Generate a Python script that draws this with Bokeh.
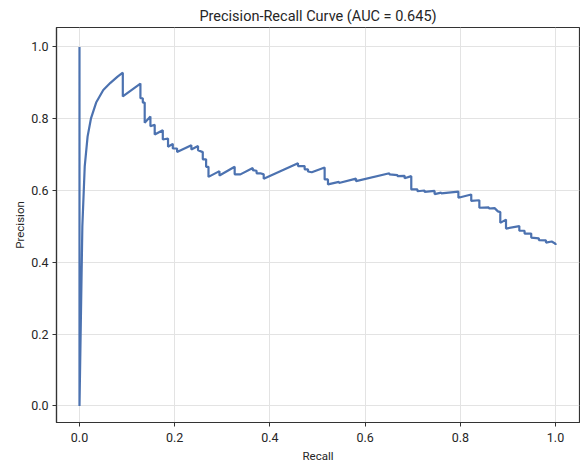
from bokeh.plotting import figure
from bokeh.models import FixedTicker, Range1d, ColumnDataSource, PrintfTickFormatter
from bokeh.embed import file_html
from bokeh.resources import INLINE

title_text = "Precision-Recall Curve (AUC = 0.645)"
x_label = "Recall"
y_label = "Precision"
tick_values = [0.0, 0.2, 0.4, 0.6, 0.8, 1.0]

recall = [
    0.000, 0.000, 0.006, 0.011, 0.017, 0.024, 0.035, 0.050, 0.065, 0.080,
    0.091, 0.091, 0.128, 0.128, 0.133, 0.133, 0.137, 0.137, 0.149, 0.149,
    0.158, 0.158, 0.175, 0.175, 0.186, 0.186, 0.196, 0.196, 0.205, 0.205,
    0.235, 0.235, 0.249, 0.249, 0.259, 0.259, 0.266, 0.266, 0.271, 0.271,
    0.294, 0.294, 0.326, 0.326, 0.338, 0.364, 0.364, 0.372, 0.372, 0.380,
    0.387, 0.387, 0.459, 0.459, 0.473, 0.473, 0.480, 0.480, 0.488, 0.515,
    0.515, 0.522, 0.522, 0.545, 0.545, 0.581, 0.581, 0.651, 0.651, 0.668,
    0.668, 0.683, 0.683, 0.697, 0.697, 0.710, 0.710, 0.725, 0.725, 0.746,
    0.746, 0.760, 0.760, 0.796, 0.796, 0.823, 0.823, 0.840, 0.840, 0.860,
    0.860, 0.872, 0.879, 0.884, 0.884, 0.896, 0.896, 0.924, 0.924, 0.935,
    0.935, 0.949, 0.949, 0.965, 0.965, 0.980, 0.980, 0.992, 1.000, 1.000,
]
precision = [
    1.000, 0.000, 0.500, 0.667, 0.750, 0.800, 0.845, 0.880, 0.900, 0.917,
    0.928, 0.862, 0.898, 0.857, 0.857, 0.845, 0.845, 0.789, 0.806, 0.779,
    0.783, 0.756, 0.768, 0.742, 0.745, 0.722, 0.730, 0.717, 0.717, 0.707,
    0.726, 0.714, 0.724, 0.712, 0.707, 0.687, 0.687, 0.666, 0.666, 0.638,
    0.654, 0.642, 0.666, 0.645, 0.645, 0.663, 0.657, 0.655, 0.648, 0.648,
    0.645, 0.633, 0.676, 0.668, 0.668, 0.659, 0.659, 0.653, 0.651, 0.664,
    0.631, 0.631, 0.617, 0.624, 0.621, 0.633, 0.626, 0.648, 0.645, 0.643,
    0.640, 0.641, 0.634, 0.640, 0.603, 0.603, 0.598, 0.600, 0.596, 0.599,
    0.590, 0.594, 0.592, 0.597, 0.580, 0.589, 0.571, 0.573, 0.552, 0.553,
    0.550, 0.551, 0.542, 0.540, 0.510, 0.519, 0.494, 0.501, 0.488, 0.488,
    0.480, 0.480, 0.469, 0.467, 0.462, 0.461, 0.455, 0.458, 0.452, 0.448,
]

FONT = "Roboto"
TEXT = "#262626"

p = figure(
    width=580, height=466,
    output_backend="svg", toolbar_location=None,
    x_range=Range1d(-0.0483, 1.0504), y_range=Range1d(-0.046, 1.054),
    min_border_left=56, min_border_right=1, min_border_top=27, min_border_bottom=44,
    title=title_text,
)
p.background_fill_color = "white"
p.border_fill_color = "white"
p.outline_line_color = "#333333"
p.outline_line_width = 1.2

p.title.align = "center"
p.title.text_font = FONT
p.title.text_font_size = "14.5px"
p.title.text_font_style = "normal"
p.title.text_color = TEXT
p.title.standoff = 6

for ax in (p.xaxis, p.yaxis):
    ax.ticker = FixedTicker(ticks=tick_values)
    ax.formatter = PrintfTickFormatter(format="%.1f")
    ax.major_label_text_font = FONT
    ax.major_label_text_font_size = "12.5px"
    ax.major_label_text_color = TEXT
    ax.axis_label_text_font = FONT
    ax.axis_label_text_font_size = "11.5px"
    ax.axis_label_text_font_style = "normal"
    ax.axis_label_text_color = TEXT
    ax.major_tick_out = 4
    ax.major_tick_in = 0
    ax.major_tick_line_color = "#333333"
    ax.minor_tick_line_color = None
    ax.axis_line_color = "#333333"
    ax.axis_line_width = 1.2

p.xaxis.axis_label = x_label
p.yaxis.axis_label = y_label
p.xaxis.major_label_standoff = 6
p.yaxis.major_label_standoff = 4
p.xaxis.axis_label_standoff = 4
p.yaxis.axis_label_standoff = 1

p.grid.grid_line_color = "#e3e3e3"
p.grid.grid_line_width = 1

src = ColumnDataSource(dict(recall=recall, precision=precision))
p.line("recall", "precision", source=src, line_color="#4c72b0", line_width=2.2)

open("out.html", "w").write(file_html(p, INLINE))
